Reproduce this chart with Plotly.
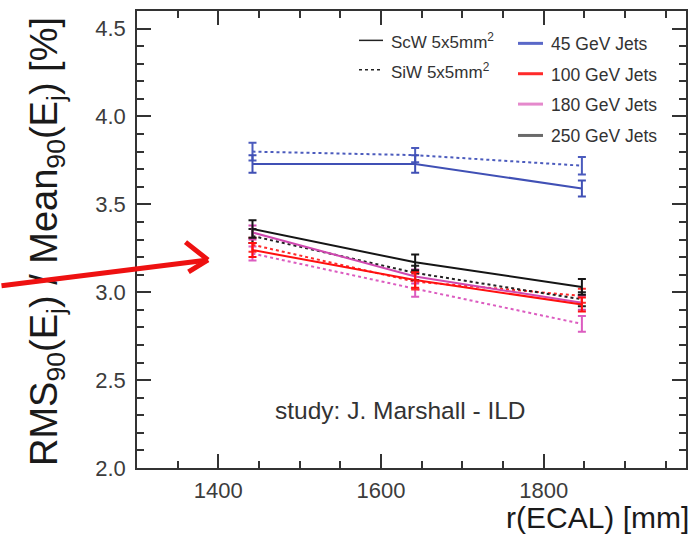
import plotly.graph_objects as go

# ECAL inner radius [mm]
r_ecal = [1442, 1642, 1847]

# Jet energy resolution RMS90/Mean90 [%], ScW 5x5mm2 (solid) and SiW 5x5mm2 (dotted)
scw_45 = [3.73, 3.73, 3.59]
scw_45_err = [0.05, 0.05, 0.045]
siw_45 = [3.80, 3.78, 3.72]
siw_45_err = [0.05, 0.04, 0.05]

scw_100 = [3.24, 3.07, 2.93]
scw_100_err = [0.04, 0.045, 0.04]
siw_100 = [3.27, 3.06, 2.98]
siw_100_err = [0.04, 0.045, 0.04]

scw_180 = [3.34, 3.09, 2.94]
scw_180_err = [0.04, 0.04, 0.04]
siw_180 = [3.22, 3.02, 2.82]
siw_180_err = [0.04, 0.045, 0.045]

scw_250 = [3.36, 3.17, 3.03]
scw_250_err = [0.05, 0.045, 0.045]
siw_250 = [3.32, 3.11, 2.96]
siw_250_err = [0.04, 0.04, 0.04]

energy_labels = ["45 GeV Jets", "100 GeV Jets", "180 GeV Jets", "250 GeV Jets"]
tech_labels = ["ScW 5x5mm<sup>2</sup>", "SiW 5x5mm<sup>2</sup>"]

FONT = "Liberation Sans, Arial, Helvetica, sans-serif"
TXT = "#333333"

# plot-area geometry in pixels (used to place legend, labels and the arrow)
W_FIG, H_FIG = 697, 536
L, T, W, H = 137, 9, 549, 459


def px(x):
    return (x - L) / W


def py(y):
    return (T + H - y) / H


series = [
    (siw_45, siw_45_err, "#4b5bbd", "dot"),
    (scw_45, scw_45_err, "#4050b5", "solid"),
    (siw_180, siw_180_err, "#dc5cc0", "dot"),
    (siw_100, siw_100_err, "#ff2a2a", "dot"),
    (siw_250, siw_250_err, "#222222", "dot"),
    (scw_180, scw_180_err, "#cf48b0", "solid"),
    (scw_100, scw_100_err, "#ff1010", "solid"),
    (scw_250, scw_250_err, "#151515", "solid"),
]

fig = go.Figure()
for vals, errs, color, dash in series:
    fig.add_trace(go.Scatter(
        x=r_ecal, y=vals, mode="lines",
        line=dict(color=color, width=2, dash=dash),
        error_y=dict(type="data", array=errs, visible=True,
                     color=color, thickness=2, width=4),
        showlegend=False, hoverinfo="skip",
    ))

axis_common = dict(
    showgrid=False, zeroline=False, showline=True, mirror="ticks",
    linecolor="#333333", linewidth=1.5,
    ticks="inside", ticklen=14, tickwidth=1.5, tickcolor="#333333",
    tickfont=dict(family=FONT, size=22, color="#3c3c3c"),
)

fig.update_xaxes(
    range=[1300, 1975], tickmode="linear", tick0=1400, dtick=200,
    minor=dict(ticks="inside", ticklen=7, tickwidth=1.5, tickcolor="#333333",
               tick0=1300, dtick=50, showgrid=False),
    ticklabelstandoff=2,
    **axis_common,
)
fig.update_yaxes(
    range=[2.0, 4.6], tickmode="linear", tick0=2.0, dtick=0.5, tickformat=".1f",
    minor=dict(ticks="inside", ticklen=7, tickwidth=1.5, tickcolor="#333333",
               tick0=2.0, dtick=0.1, showgrid=False),
    ticklabelstandoff=5,
    **axis_common,
)

shapes = []
annotations = []

# legend: technology column
for i, (label, dash) in enumerate(zip(tech_labels, ["solid", "dot"])):
    yy = [38.5, 68][i]
    shapes.append(dict(type="line", xref="paper", yref="paper",
                       x0=px(359), x1=px(383), y0=py(yy), y1=py(yy),
                       line=dict(color="#222222", width=1.5, dash=dash)))
    annotations.append(dict(text=label, xref="paper", yref="paper",
                            x=px(389), y=py(yy + 1), xanchor="left", yanchor="middle",
                            showarrow=False, font=dict(family=FONT, size=17, color=TXT)))

# legend: jet energy column
legend_colors = ["#5a68c8", "#ff2a2a", "#e589cc", "#6a6a6a"]
for i, (label, color) in enumerate(zip(energy_labels, legend_colors)):
    yy = [41.5, 72, 102.5, 134][i]
    shapes.append(dict(type="line", xref="paper", yref="paper",
                       x0=px(518), x1=px(543), y0=py(yy), y1=py(yy),
                       line=dict(color=color, width=3)))
    annotations.append(dict(text=label, xref="paper", yref="paper",
                            x=px(549), y=py(yy + 1), xanchor="left", yanchor="middle",
                            showarrow=False, font=dict(family=FONT, size=17.5, color=TXT)))

# axis titles
annotations.append(dict(
    text="RMS<sub>90</sub>(E<sub>j</sub>) / Mean<sub>90</sub>(E<sub>j</sub>) [%]",
    xref="paper", yref="paper", x=px(47), y=py(241), xanchor="center", yanchor="middle",
    textangle=-90, showarrow=False, font=dict(family=FONT, size=38, color="#1a1a1a")))
annotations.append(dict(
    text="r(ECAL) [mm]", xref="paper", yref="paper", x=px(691), y=py(518),
    xanchor="right", yanchor="middle", showarrow=False,
    font=dict(family=FONT, size=30, color="#1a1a1a")))

annotations.append(dict(
    text="study: J. Marshall - ILD", xref="paper", yref="paper", x=px(400), y=py(410),
    xanchor="center", yanchor="middle", showarrow=False,
    font=dict(family=FONT, size=24.5, color=TXT)))

# red pointer arrow: shaft plus two barbs, drawn over the y-axis title
ARROW_RED = "#ee1111"
tip = (208, 259)
for tail in [(-10, 285), (184, 240), (187, 272)]:
    annotations.append(dict(
        text="", xref="paper", yref="paper", x=px(tip[0]), y=py(tip[1]),
        ax=tail[0] - tip[0], ay=tail[1] - tip[1], axref="pixel", ayref="pixel",
        showarrow=True, arrowhead=0, arrowwidth=5, arrowcolor=ARROW_RED,
        standoff=0, startstandoff=0))

fig.update_layout(
    width=W_FIG, height=H_FIG,
    margin=dict(l=L, r=W_FIG - L - W, t=T, b=H_FIG - T - H),
    paper_bgcolor="white", plot_bgcolor="white",
    shapes=shapes, annotations=annotations,
    showlegend=False,
)

fig.write_html("out.html")
